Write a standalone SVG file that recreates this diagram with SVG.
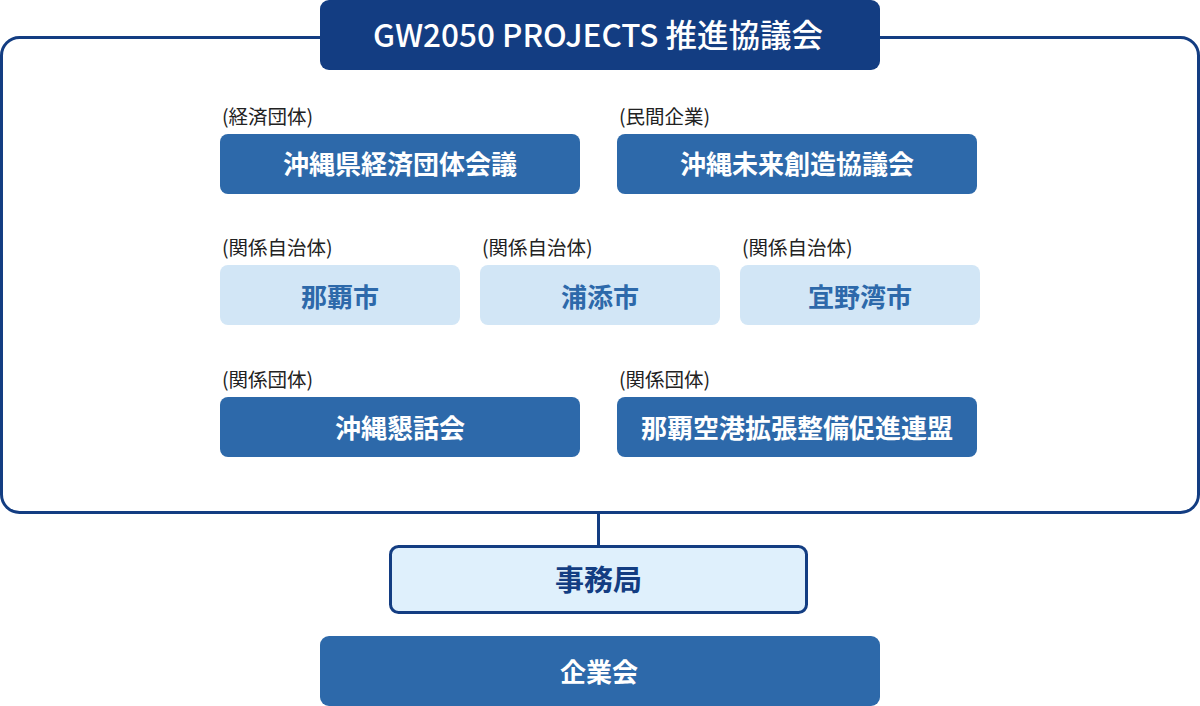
<svg xmlns="http://www.w3.org/2000/svg" width="1200" height="706" viewBox="0 0 1200 706">
<style>
.dark{fill:#133d82}
.mid{fill:#2d69aa}
.light{fill:#d2e6f6}
.t{font-family:"Noto Sans CJK JP","Noto Sans",sans-serif;text-anchor:middle}
.w{fill:#ffffff;font-size:26px;font-weight:700}
.b{fill:#2d69aa;font-size:26px;font-weight:700}
.lbl{font-family:"Noto Sans CJK JP","Noto Sans",sans-serif;font-size:19.5px;fill:#222222}
.conn{stroke:#133d82;stroke-width:3;fill:none}
</style>
<rect width="1200" height="706" fill="#ffffff"/>
<g id="connectors">
<rect class="conn" x="1.5" y="37.5" width="1197" height="475" rx="18"/>
<line class="conn" x1="598.5" y1="513" x2="598.5" y2="547"/>
</g>
<g id="header">
<rect class="dark" x="320" y="0" width="560" height="70" rx="9"/>
<text class="t" x="598" y="47" fill="#ffffff" font-size="31.5" font-weight="500">GW2050 PROJECTS 推進協議会</text>
</g>
<g id="node-keizai">
<text class="lbl" x="222" y="124">(経済団体)</text>
<rect class="mid" x="220" y="134" width="360" height="60" rx="8"/>
<text class="t w" x="400" y="173.5">沖縄県経済団体会議</text>
</g>
<g id="node-mirai">
<text class="lbl" x="619" y="124">(民間企業)</text>
<rect class="mid" x="617" y="134" width="360" height="60" rx="8"/>
<text class="t w" x="797" y="173.5">沖縄未来創造協議会</text>
</g>
<g id="node-naha">
<text class="lbl" x="222" y="255">(関係自治体)</text>
<rect class="light" x="220" y="265" width="240" height="60" rx="8"/>
<text class="t b" x="340" y="306.5">那覇市</text>
</g>
<g id="node-urasoe">
<text class="lbl" x="482" y="255">(関係自治体)</text>
<rect class="light" x="480" y="265" width="240" height="60" rx="8"/>
<text class="t b" x="600" y="306.5">浦添市</text>
</g>
<g id="node-ginowan">
<text class="lbl" x="742" y="255">(関係自治体)</text>
<rect class="light" x="740" y="265" width="240" height="60" rx="8"/>
<text class="t b" x="860" y="306.5">宜野湾市</text>
</g>
<g id="node-kondankai">
<text class="lbl" x="222" y="387">(関係団体)</text>
<rect class="mid" x="220" y="397" width="360" height="60" rx="8"/>
<text class="t w" x="400" y="437.5">沖縄懇話会</text>
</g>
<g id="node-kuko">
<text class="lbl" x="619" y="387">(関係団体)</text>
<rect class="mid" x="617" y="397" width="360" height="60" rx="8"/>
<text class="t w" x="797" y="437.5">那覇空港拡張整備促進連盟</text>
</g>
<g id="node-jimukyoku">
<rect x="390.5" y="546.5" width="416" height="66" rx="8" fill="#dff0fc" stroke="#133d82" stroke-width="3"/>
<text class="t" x="598.5" y="591" fill="#133d82" font-size="29" font-weight="700">事務局</text>
</g>
<g id="node-kigyokai">
<rect class="mid" x="320" y="636" width="560" height="70" rx="9"/>
<text class="t w" x="599" y="682" font-size="29">企業会</text>
</g>
</svg>
